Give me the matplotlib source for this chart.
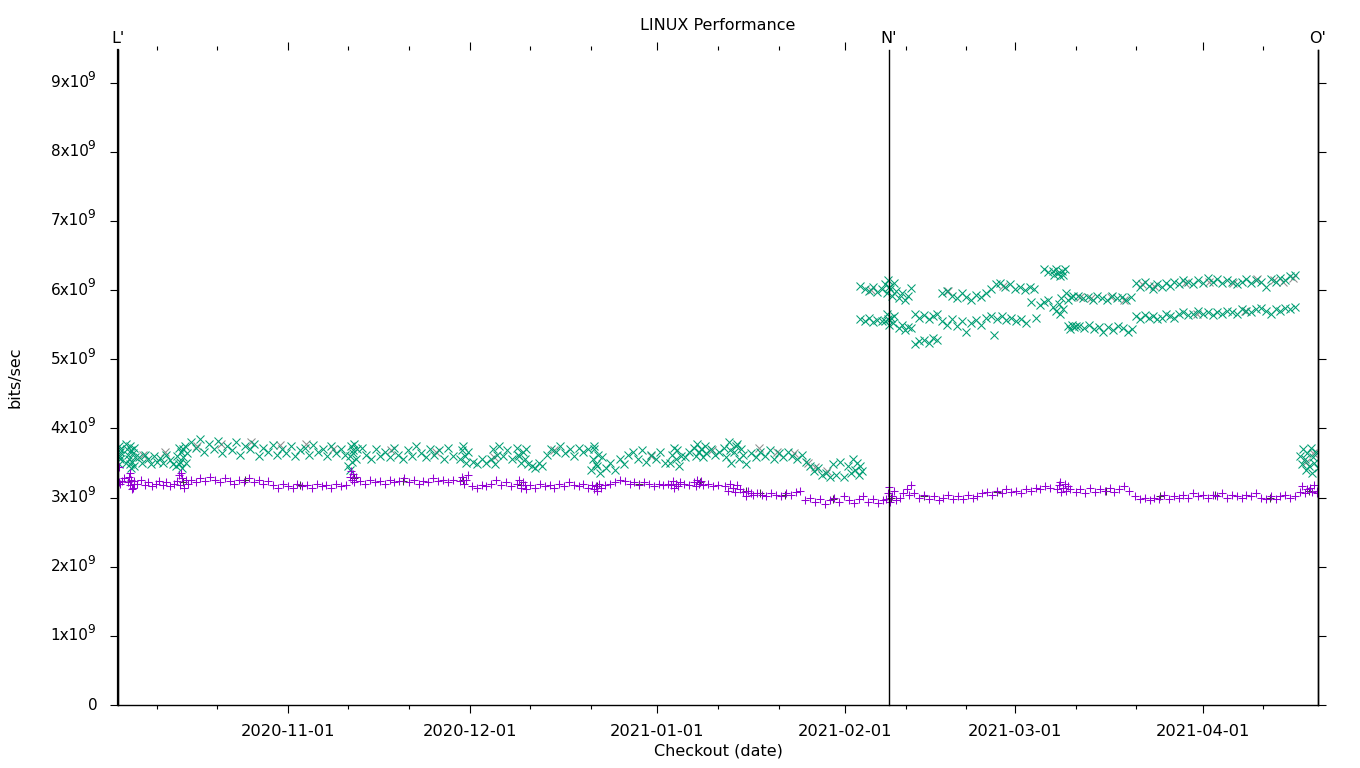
import matplotlib
matplotlib.use("Agg")
import matplotlib.pyplot as plt
import numpy as np
import pandas as pd

plt.rcParams['font.family'] = ['DejaVu Sans']

# ---------------- data ----------------
BASE = "2020-10-04"          # day 0
X_END = "2021-04-20"
N_DATE = "2021-02-08 05:00"

title = "LINUX Performance"
xlabel = "Checkout (date)"
ylabel = "bits/sec"
marker_labels = ["L'", "N'", "O'"]
major_dates = ["2020-11-01", "2020-12-01", "2021-01-01", "2021-02-01", "2021-03-01", "2021-04-01"]
minor_dates = ["2020-10-10 10:00", "2020-10-20 10:00", "2020-11-11 00:00", "2020-11-21 00:00",
               "2020-12-11 00:00", "2020-12-21 00:00", "2021-01-11 00:00", "2021-01-21 00:00",
               "2021-02-11 00:00", "2021-02-21 00:00", "2021-03-11 00:00", "2021-03-21 00:00",
               "2021-04-11 00:00"]
ytick_vals = [0, 1, 2, 3, 4, 5, 6, 7, 8, 9]       # x 1e9

# green 'x' series: day offset from BASE, value in 1e9 bits/sec
green_day = [0.1, 0.2, 0.3, 0.2, 0.4, 0.1, 0.3,
             1.3, 1.5, 1.6, 1.8, 2.0, 2.2, 2.4, 2.6, 2.8, 1.4, 1.9, 2.3, 2.7, 2.1,
             3.5, 4.0, 4.5, 5.0, 5.5, 6.0, 6.5, 7.0, 7.5, 8.0, 8.5, 9.0,
             9.6, 9.8, 10.0, 10.2, 10.4, 10.6, 10.8, 11.0, 11.2, 11.4, 10.1, 10.7,
             12, 12.8, 13.5, 14.2, 15, 15.8, 16.5, 17.2, 18, 18.8, 19.5, 20.2, 21, 21.8, 22.5, 23.2,
             24, 24.8, 25.5, 26.2, 27, 27.8, 28.5, 29.2, 30, 30.8, 31.5, 32.2, 33, 33.8, 34.5, 35.2,
             36, 36.8, 37.5,
             38.0, 38.2, 38.4, 38.6, 38.8, 39.0, 39.2, 38.3, 38.7, 39.4,
             40.2, 41, 41.8, 42.5, 43.2, 44, 44.8, 45.5, 46.2, 47, 47.8, 48.5, 49.2, 50, 50.8, 51.5,
             52.2, 53, 53.8, 54.5, 55.2,
             56.5, 56.8, 57.0, 57.2, 57.5, 57.8,
             58.5, 59.2, 60, 60.8,
             61.6, 61.9, 62.2, 62.5, 62.8,
             63.5, 64.2, 65,
             65.9, 66.2, 66.5, 66.8, 67.1, 67.4, 67.7, 66.0,
             68.3, 68.8, 69.4, 70,
             70.8, 71.5, 72.2, 73, 73.8, 74.5, 75.2, 76, 76.8, 77.5,
             78.0, 78.3, 78.6, 78.9, 79.2, 79.5, 79.8, 78.5, 79.0,
             80.5, 81.2, 82, 82.8, 83.5, 84.2,
             85, 85.8, 86.5, 87.2, 88, 88.8, 89.5, 90.2,
             91.1, 91.4, 91.7, 92, 92.3, 92.6, 92.9,
             93.5, 94.2,
             95.0, 95.3, 95.6, 95.9, 96.2, 96.5, 96.8, 97.1,
             97.8, 98.5, 99.2,
             100, 100.4, 100.8, 101.2, 101.6, 102, 102.4, 102.8, 103.2, 103.6, 101.0, 102.2,
             104.5, 105.2, 106, 106.8, 107.5, 108.2, 109, 109.8, 110.5, 111.2, 112, 112.8,
             113.5, 114.2, 114.8, 115.5, 116.2, 116.8, 117.5,
             118, 118.5, 119.2, 119.8, 120.4, 121, 121.3, 121.6, 121.9, 122.2, 122.5, 122.7,
             122.5, 123.2, 123.9, 124.6, 125.3, 126,
             122.5, 123.2, 123.9, 124.6, 125.3, 126,
             126.6, 126.9, 127.1, 127.4, 127.7, 128, 127.2, 128.3,
             126.6, 126.9, 127.2, 127.5, 127.8, 128.1, 127.0,
             128.8, 129.3, 129.8, 130.3, 130.8,
             128.8, 129.3, 129.8, 130.3, 130.8,
             131.5, 132.2, 133, 133.8, 134.5, 135.2,
             131.5, 132.2, 133, 133.8, 134.5, 135.2,
             136, 136.8, 137.6, 138.4, 139.2, 140, 140.8, 141.6, 142.4, 143.2,
             136, 136.8, 137.6, 138.4, 139.2, 140, 140.8, 141.6, 142.4, 143.2,
             144, 144.8, 145.6, 146.4, 147.2, 148, 148.8, 149.6, 150.4, 151.2,
             144, 144.5, 145, 145.8, 146.6, 147.4, 148.2, 149, 149.8, 150.6, 151.4,
             154.2, 154.5, 154.8, 155.1, 155.4, 155.7, 156, 156.3, 152.8, 153.4,
             152.2, 152.8, 153.5, 154.3, 154.8, 155.2, 155.6, 156, 156.4, 156.8, 157.2, 157.6, 155.4,
             156.8, 157.1, 157.4, 157.7, 158,
             158.4, 159.2, 160, 160.8, 161.6, 162.4, 163.2, 164, 164.8, 165.6, 166.4, 167.2,
             158.6, 159.4, 160.2, 161, 161.8, 162.6, 163.4, 164.2, 165, 165.8, 166.6, 167.3,
             168, 168.7, 169.4, 170.1, 170.8, 171.5, 172.2, 172.9, 173.6, 174.3,
             168, 168.7, 169.4, 170.1, 170.8, 171.5, 172.2, 172.9, 173.6, 174.3,
             175, 175.8, 176.6, 177.4, 178.2, 179, 179.8, 180.6, 181.4, 182.2, 183, 183.8, 184.6,
             185.4, 186.2, 187, 187.8, 188.6, 189.4, 190.2, 191, 191.8, 192.6, 193.4, 194.2,
             175, 175.8, 176.6, 177.4, 178.2, 179, 179.8, 180.6, 181.4, 182.2, 183, 183.8, 184.6,
             185.4, 186.2, 187, 187.8, 188.6, 189.4, 190.2, 191, 191.8, 192.6, 193.4, 194.2,
             195, 195.3, 195.6, 195.9, 196.2, 196.5, 196.8, 197.1, 197.4, 197.7, 198, 196.0, 197.0]
green_val = [3.75, 3.62, 3.55, 3.48, 3.70, 3.58, 3.66,
             3.78, 3.70, 3.62, 3.55, 3.48, 3.42, 3.65, 3.72, 3.58, 3.50, 3.75, 3.52, 3.45, 3.68,
             3.58, 3.50, 3.62, 3.55, 3.48, 3.60, 3.52, 3.57, 3.50, 3.62, 3.54, 3.48,
             3.45, 3.60, 3.72, 3.52, 3.66, 3.42, 3.58, 3.75, 3.50, 3.64, 3.48, 3.70,
             3.80, 3.72, 3.85, 3.66, 3.78, 3.70, 3.82, 3.64, 3.75, 3.68, 3.80, 3.62, 3.74, 3.70, 3.78, 3.60,
             3.72, 3.66, 3.76, 3.62, 3.70, 3.64, 3.74, 3.60, 3.68, 3.72, 3.62, 3.76, 3.66, 3.70, 3.60, 3.74,
             3.64, 3.70, 3.62,
             3.45, 3.60, 3.75, 3.52, 3.68, 3.78, 3.56, 3.40, 3.64, 3.70,
             3.72, 3.62, 3.56, 3.70, 3.60, 3.66, 3.58, 3.72, 3.62, 3.55, 3.68, 3.60, 3.74, 3.64, 3.58, 3.70,
             3.62, 3.68, 3.56, 3.72, 3.60,
             3.55, 3.68, 3.75, 3.60, 3.50, 3.66,
             3.52, 3.48, 3.56, 3.50,
             3.55, 3.70, 3.48, 3.62, 3.74,
             3.60, 3.68, 3.56,
             3.72, 3.60, 3.50, 3.66, 3.55, 3.70, 3.48, 3.62,
             3.46, 3.42, 3.50, 3.45,
             3.62, 3.70, 3.66, 3.74, 3.64, 3.70, 3.60, 3.72, 3.66, 3.70,
             3.40, 3.55, 3.70, 3.48, 3.62, 3.35, 3.58, 3.75, 3.45,
             3.42, 3.50, 3.40, 3.55, 3.48, 3.62,
             3.66, 3.55, 3.68, 3.52, 3.62, 3.56, 3.66, 3.50,
             3.50, 3.62, 3.72, 3.55, 3.68, 3.45, 3.60,
             3.58, 3.66,
             3.72, 3.60, 3.78, 3.66, 3.70, 3.58, 3.75, 3.64,
             3.70, 3.62, 3.66,
             3.72, 3.58, 3.80, 3.50, 3.66, 3.74, 3.56, 3.70, 3.62, 3.48, 3.68, 3.78,
             3.64, 3.58, 3.66, 3.60, 3.68, 3.56, 3.64, 3.58, 3.66, 3.60, 3.56, 3.62,
             3.52, 3.45, 3.38, 3.42, 3.32, 3.35, 3.30,
             3.48, 3.33, 3.52, 3.30, 3.46, 3.35, 3.55, 3.40, 3.50, 3.32, 3.45, 3.38,
             6.06, 6.02, 5.98, 6.04, 5.97, 6.02,
             5.58, 5.55, 5.60, 5.54, 5.57, 5.55,
             6.08, 5.95, 6.15, 6.02, 5.92, 6.10, 6.05, 5.98,
             5.55, 5.65, 5.50, 5.60, 5.52, 5.62, 5.58,
             5.88, 5.95, 5.85, 5.92, 6.03,
             5.45, 5.50, 5.42, 5.47, 5.45,
             5.66, 5.60, 5.64, 5.58, 5.62, 5.66,
             5.22, 5.26, 5.28, 5.24, 5.30, 5.27,
             5.95, 5.98, 5.92, 5.88, 5.95, 5.90, 5.85, 5.93, 5.90, 5.95,
             5.55, 5.50, 5.58, 5.48, 5.55, 5.40, 5.52, 5.57, 5.50, 5.60,
             6.02, 6.08, 6.10, 6.05, 6.08, 6.02, 6.04, 6.00, 6.04, 6.02,
             5.62, 5.35, 5.58, 5.62, 5.56, 5.60, 5.55, 5.58, 5.52, 5.82, 5.60,
             6.28, 6.22, 6.30, 6.24, 6.20, 6.27, 6.22, 6.30, 6.30, 6.26,
             5.78, 5.82, 5.85, 5.75, 5.70, 5.80, 5.88, 5.72, 5.95, 5.85, 5.90, 5.92, 5.65,
             5.48, 5.44, 5.50, 5.46, 5.48,
             5.92, 5.88, 5.90, 5.86, 5.92, 5.88, 5.85, 5.92, 5.88, 5.90, 5.86, 5.90,
             5.48, 5.45, 5.50, 5.44, 5.47, 5.40, 5.46, 5.42, 5.48, 5.45, 5.40, 5.44,
             6.10, 6.05, 6.12, 6.06, 6.02, 6.08, 6.04, 6.10, 6.06, 6.12,
             5.62, 5.58, 5.64, 5.60, 5.62, 5.58, 5.60, 5.65, 5.62, 5.60,
             6.08, 6.14, 6.12, 6.08, 6.15, 6.10, 6.18, 6.12, 6.16, 6.10, 6.14, 6.12, 6.08,
             6.12, 6.16, 6.10, 6.15, 6.12, 6.05, 6.16, 6.12, 6.18, 6.14, 6.20, 6.22,
             5.65, 5.68, 5.64, 5.66, 5.70, 5.66, 5.68, 5.64, 5.68, 5.66, 5.70, 5.68, 5.66,
             5.72, 5.70, 5.68, 5.72, 5.74, 5.70, 5.66, 5.72, 5.70, 5.74, 5.72, 5.76,
             3.60, 3.48, 3.70, 3.55, 3.65, 3.45, 3.72, 3.58, 3.50, 3.66, 3.42, 3.40, 3.36]

# grey 'x' series (mostly hidden beneath the green one)
grey_day = [4.2, 7.8, 13, 17, 22, 26.8, 31, 35.5, 45, 52.5, 62, 72, 88, 98, 105.8, 108.8, 111.6,
            113.8, 115, 117, 124.2, 137, 146, 158.8, 160.6, 163.8, 166, 169, 171, 176, 180, 184,
            188, 190.8, 192.2, 193.8, 178, 186, 196, 197.2]
grey_val = [3.62, 3.66, 3.74, 3.78, 3.80, 3.76, 3.78, 3.70, 3.68, 3.66, 3.58, 3.68, 3.60, 3.68, 3.72,
            3.66, 3.64, 3.50, 3.44, 3.38, 6.00, 5.98, 6.06, 5.90, 5.88, 5.90, 5.86, 6.08, 6.06, 6.10,
            6.12, 6.10, 6.16, 6.14, 6.12, 6.18, 5.66, 5.70, 3.52, 3.64]

# purple '+' series
purple_day = [0.1, 0.2, 0.3,
              1.6, 1.8, 2.0, 2.2, 2.4, 2.6, 1.9, 2.3, 2.7,
              0.6, 1.0, 3.2, 3.8, 4.4, 5.0, 5.6, 6.2, 6.8, 7.4, 8.0, 8.6, 9.2,
              9.8, 10.0, 10.3, 10.6, 10.9, 11.2, 11.5, 10.4,
              12, 12.8, 13.6, 14.4, 15.2, 16, 16.8, 17.6, 18.4, 19.2, 20, 20.8, 21.6, 22.4, 23.2, 24, 24.8,
              25.6, 26.4, 27.2, 28, 28.8, 29.6, 30.4, 31.2, 32, 32.8, 33.6, 34.4, 35.2, 36, 36.8, 37.6,
              38.2, 38.4, 38.6, 38.8, 39.0, 39.2,
              40, 40.8, 41.6, 42.4, 43.2, 44, 44.8, 45.6, 46.4, 47.2, 48, 48.8, 49.6, 50.4, 51.2, 52,
              52.8, 53.6, 54.4, 55.2,
              56.5, 56.8, 57.1, 57.4, 57.7,
              58.4, 59.2, 60, 60.8, 61.6, 62.4, 63.2, 64, 64.8,
              65.9, 66.2, 66.5, 66.8, 67.1, 67.4,
              68, 68.8, 69.6, 70.4, 71.2, 72, 72.8, 73.6, 74.4, 75.2, 76, 76.8, 77.6,
              78.2, 78.5, 78.8, 79.1, 79.4, 79.7,
              80.4, 81.2, 82, 82.8, 83.6, 84.4, 85.2, 86, 86.8, 87.6, 88.4, 89.2, 90, 90.8,
              91.2, 91.5, 91.8, 92.1, 92.4, 92.7,
              93.4, 94.2,
              95.0, 95.3, 95.6, 95.9, 96.2, 96.6,
              97.4, 98.2, 99,
              100.2, 100.6, 101, 101.4, 101.8, 102.2, 102.6,
              103.2, 103.6, 104, 104.4, 104.8,
              105.4, 106.2, 107, 107.8, 108.6, 109.4, 110.2, 111, 111.8, 112.6,
              113.4, 114.2, 115, 115.8, 116.6, 117.4, 118.2, 119, 119.8, 120.6, 121.4, 122.2, 123,
              123.8, 124.6, 125.4, 126.2,
              126.8, 127.1, 127.4, 127.7, 128, 128.3, 127.2,
              129, 129.6, 130.2, 130.8, 130.5,
              131.4, 132.2, 133, 133.8, 134.6, 135.4, 136.2, 137, 137.8, 138.6, 139.4, 140.2, 141, 141.8,
              142.6, 143.4, 144.2, 145, 145.8, 146.6, 147.4, 148.2, 149, 149.8,
              150.6, 151.4, 152.2, 153, 153.8,
              155, 155.3, 155.6, 155.9, 156.2, 156.5, 156.8, 157.1, 155.5,
              158, 158.8, 159.6, 160.4, 161.2, 162, 162.8, 163.6, 164.4, 165.2, 166, 166.8,
              167.8, 168.6, 169.4, 170.2, 171, 171.8, 172.6, 173.4, 174.2, 175, 175.8, 176.6, 177.4,
              178.2, 179, 179.8, 180.6, 181.4, 182.2, 183, 183.8, 184.6, 185.4, 186.2, 187, 187.8,
              188.6, 189.4, 190.2, 191, 191.8, 192.6, 193.4, 194.2,
              195, 195.4, 195.8, 196.2, 196.6, 197, 197.4, 197.8, 197.9]
purple_val = [3.22, 3.44, 3.20,
              3.22, 3.30, 3.18, 3.26, 3.14, 3.24, 3.35, 3.12, 3.20,
              3.24, 3.28, 3.20, 3.26, 3.18, 3.22, 3.16, 3.20, 3.24, 3.18, 3.22, 3.16, 3.20,
              3.24, 3.32, 3.18, 3.28, 3.14, 3.26, 3.20, 3.35,
              3.26, 3.22, 3.28, 3.24, 3.30, 3.26, 3.22, 3.28, 3.24, 3.20, 3.26, 3.22, 3.28, 3.22, 3.26, 3.20, 3.24,
              3.18, 3.14, 3.20, 3.16, 3.14, 3.20, 3.16, 3.18, 3.14, 3.20, 3.16, 3.18, 3.14, 3.20, 3.16, 3.18,
              3.30, 3.38, 3.26, 3.34, 3.22, 3.30,
              3.24, 3.20, 3.26, 3.22, 3.24, 3.20, 3.26, 3.22, 3.24, 3.28, 3.22, 3.26, 3.20, 3.24, 3.22, 3.28,
              3.24, 3.26, 3.22, 3.26,
              3.24, 3.30, 3.20, 3.26, 3.32,
              3.16, 3.14, 3.18, 3.16, 3.20, 3.26, 3.18, 3.22, 3.16,
              3.20, 3.26, 3.14, 3.22, 3.18, 3.12,
              3.18, 3.14, 3.20, 3.16, 3.18, 3.14, 3.20, 3.16, 3.22, 3.18, 3.16, 3.20, 3.14,
              3.18, 3.12, 3.16, 3.10, 3.20, 3.14,
              3.18, 3.20, 3.22, 3.26, 3.24, 3.20, 3.22, 3.18, 3.22, 3.20, 3.16, 3.20, 3.18, 3.20,
              3.18, 3.24, 3.14, 3.20, 3.16, 3.22,
              3.20, 3.18,
              3.22, 3.16, 3.26, 3.20, 3.24, 3.18,
              3.20, 3.16, 3.18,
              3.16, 3.10, 3.20, 3.14, 3.08, 3.18, 3.12,
              3.08, 3.02, 3.10, 3.06, 3.04,
              3.06, 3.04, 3.02, 3.06, 3.04, 3.02, 3.06, 3.04, 3.08, 3.10,
              2.96, 3.00, 2.94, 2.98, 2.90, 2.96, 3.00, 2.94, 3.02, 2.96, 2.92, 2.98, 3.02,
              2.94, 2.98, 2.92, 2.96,
              2.98, 3.06, 2.94, 3.02, 3.10, 2.96, 3.15,
              3.00, 3.06, 3.12, 3.18, 3.04,
              3.06, 3.00, 3.04, 2.98, 3.02, 2.96, 3.00, 3.04, 2.98, 3.02, 2.98, 3.04, 3.00, 3.02,
              3.06, 3.08, 3.04, 3.10, 3.06, 3.12, 3.08, 3.10, 3.06, 3.12,
              3.10, 3.14, 3.12, 3.16, 3.14,
              3.12, 3.18, 3.08, 3.14, 3.20, 3.10, 3.16, 3.12, 3.22,
              3.08, 3.12, 3.06, 3.14, 3.08, 3.12, 3.10, 3.14, 3.08, 3.12, 3.16, 3.10,
              3.02, 2.98, 3.00, 2.96, 3.00, 2.98, 3.04, 2.98, 3.02, 3.00, 3.04, 3.00, 3.06,
              3.02, 3.04, 3.00, 3.04, 3.02, 3.06, 3.00, 3.04, 3.02, 3.00, 3.04, 3.02, 3.06,
              3.00, 2.98, 3.02, 2.98, 3.02, 3.04, 3.00, 3.02,
              3.08, 3.16, 3.06, 3.12, 3.14, 3.08, 3.18, 3.10, 3.06]

# dark '+' series (mostly hidden beneath the purple one)
dark_day = [2.1, 10.8, 21, 30, 39, 47, 57, 66.5, 79, 86, 92, 96, 101.5, 103.6, 106, 110, 118,
            127.5, 133, 145, 156, 163, 172, 181, 190, 196.5]
dark_val = [3.24, 3.22, 3.26, 3.18, 3.28, 3.24, 3.26, 3.18, 3.16, 3.20, 3.20, 3.22, 3.14, 3.10,
            3.06, 3.04, 2.98, 3.00, 3.02, 3.08, 3.14, 3.10, 3.02, 3.04, 3.00, 3.10]

# ---------------- plotting ----------------
base = pd.Timestamp(BASE)
def to_dates(days):
    return base + pd.to_timedelta(np.asarray(days, dtype=float), unit="D")

SCALE = 1e9
PX = 72 / 100  # points per pixel
fig = plt.figure(figsize=(13.6, 7.68), dpi=100)
ax = fig.add_axes([118/1360, 1 - 705/768, 1200/1360, 655/768])

xk = dict(linestyle="none", marker="x", markersize=5.8, markeredgewidth=0.75)
pk = dict(linestyle="none", marker="+", markersize=6.4, markeredgewidth=0.75)
ax.plot(to_dates(grey_day), np.array(grey_val) * SCALE, color="#8c8c8c", **xk)
ax.plot(to_dates(green_day), np.array(green_val) * SCALE, color="#009e73", **xk)
ax.plot(to_dates(dark_day), np.array(dark_val) * SCALE, color="#3a3a3a", **pk)
ax.plot(to_dates(purple_day), np.array(purple_val) * SCALE, color="#9400d3", **pk)

x0, x1 = pd.Timestamp(BASE), pd.Timestamp(X_END)
xn = pd.Timestamp(N_DATE)
ax.set_xlim(x0, x1)
ax.set_ylim(0, 9.47e9)

# vertical marker lines
for xv in (x0, xn, x1):
    ax.axvline(xv, color="black", linewidth=1.0, zorder=5, clip_on=False)
for lab, xv in zip(marker_labels, (x0, xn, x1)):
    ax.text(xv, 1.0 + 11/655, lab, transform=ax.get_xaxis_transform(), ha="center",
            va="center", fontsize=11.5)

# spines
ax.spines["top"].set_visible(False)
ax.spines["left"].set_linewidth(1.6)
ax.spines["right"].set_linewidth(1.0)
ax.spines["bottom"].set_linewidth(1.0)

# ticks
ax.set_yticks([v * SCALE for v in ytick_vals])
ax.set_yticklabels([])
ax.set_xticks(pd.to_datetime(major_dates))
ax.set_xticklabels(major_dates)
ax.set_xticks(pd.to_datetime(minor_dates, format="ISO8601"), minor=True)
ax.tick_params(axis="both", which="major", direction="out", length=6, width=0.8,
               labelsize=11.7, top=True, right=True, labeltop=False, labelright=False)
ax.tick_params(axis="both", which="minor", direction="out", length=3, width=0.8, top=True)
ax.tick_params(axis="x", pad=8)

# y tick labels in gnuplot style: "Nx10" with a raised exponent
ytr = ax.get_yaxis_transform()
for v in ytick_vals:
    if v == 0:
        ax.annotate("0", xy=(0, 0), xycoords=ytr, xytext=(-20 * PX, 0),
                    textcoords="offset points", ha="right", va="center", fontsize=11)
        continue
    ax.annotate(f"{v}x10", xy=(0, v * SCALE), xycoords=ytr, xytext=(-29.5 * PX, -4.6 * PX),
                textcoords="offset points", ha="right", va="baseline", fontsize=11)
    ax.annotate("9", xy=(0, v * SCALE), xycoords=ytr, xytext=(-30.5 * PX, 2.6 * PX),
                textcoords="offset points", ha="left", va="baseline", fontsize=8.8)

ax.set_xlabel(xlabel, fontsize=11.5, labelpad=3)
fig.text(15/1360, 1 - 377/768, ylabel, rotation=90, ha="center", va="center", fontsize=11.5)
fig.text(718/1360, 1 - 25/768, title, ha="center", va="center", fontsize=11.5)

fig.savefig("out.png", dpi=100)
